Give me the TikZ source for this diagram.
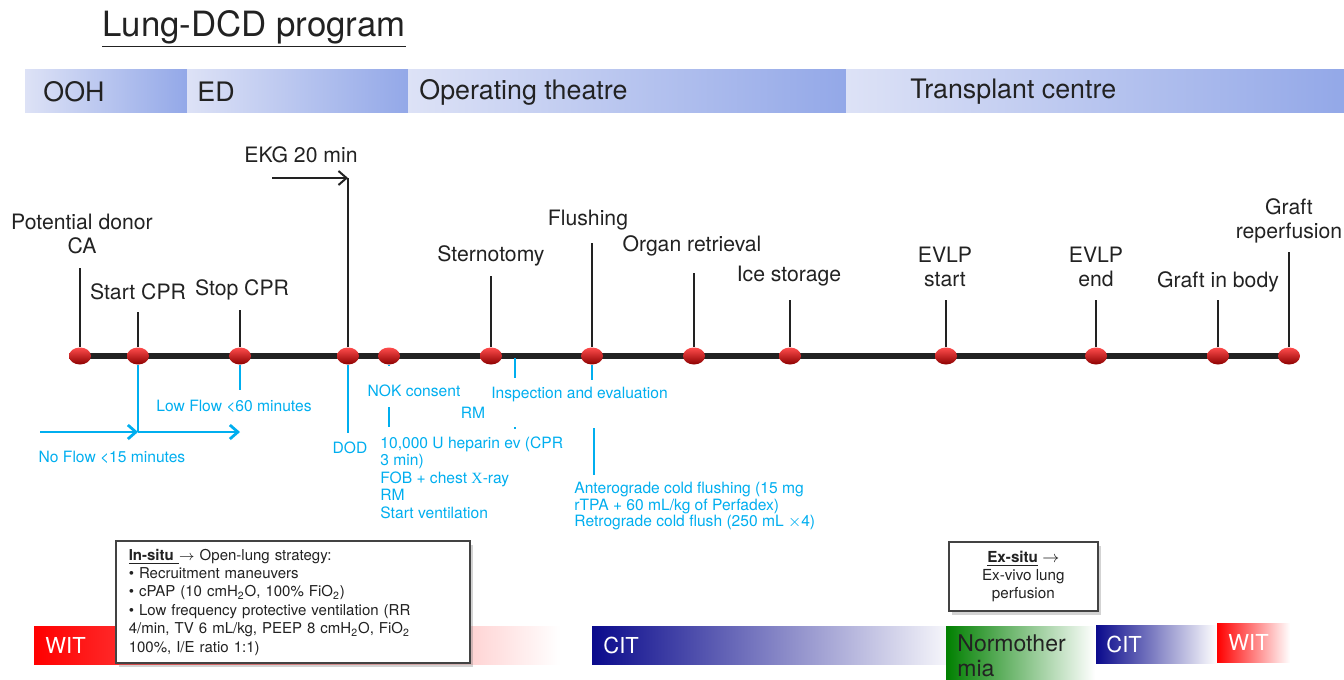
\documentclass[tikz,border=0pt]{standalone}
\usepackage{fontspec}
\setmainfont{TeX Gyre Heros}
\newfontfamily\serifx{Liberation Serif}
\usetikzlibrary{shapes.geometric,arrows.meta,shadows,backgrounds}
\definecolor{ink}{HTML}{222222}
\definecolor{flowblue}{HTML}{00AEEF}
\definecolor{bandlight}{HTML}{DDE2F6}
\definecolor{banddark}{HTML}{93A8E8}
\definecolor{citblue}{HTML}{0A0A8C}
\tikzset{
  dot/.style={ellipse,top color=red!70!white,middle color=red,bottom color=red!55!black,
    minimum width=11pt,minimum height=8.5pt,inner sep=0pt},
  tick/.style={line width=1pt,ink},
  flow/.style={line width=1.4pt,flowblue},
  lbl/.style={font=\fontsize{10.6}{12}\selectfont,text=ink,align=center,inner sep=0pt},
  bandtext/.style={font=\fontsize{13.4}{15}\selectfont,text=ink,anchor=west,inner sep=0pt},
  note/.style={font=\fontsize{7.8}{8.75}\selectfont,text=flowblue,align=left,inner sep=0pt},
  infobox/.style={draw=ink!85,line width=0.8pt,fill=white,
    drop shadow={shadow xshift=1.5pt,shadow yshift=-2pt,opacity=0.35},
    font=\fontsize{7.5}{9.2}\selectfont,text=ink},
  barlbl/.style={font=\fontsize{11}{12.5}\selectfont,text=white,anchor=west,inner sep=0pt},
}
\begin{document}
\begin{tikzpicture}[x=0.5pt,y=-0.5pt,>={Straight Barb[length=4pt,width=7pt]}]
\useasboundingbox (0,0) rectangle (1344,680);

% title and places
\node[font=\fontsize{17.4}{20}\selectfont,text=ink] (title) at (254,29) {\underline{Lung-DCD program}};
\shade[left color=bandlight,right color=banddark] (25,69) rectangle (187,112);
\shade[left color=bandlight,right color=banddark] (187,69) rectangle (408,112);
\shade[left color=bandlight,right color=banddark] (408,69) rectangle (846,112);
\shade[left color=bandlight,right color=banddark] (846,69) rectangle (1344,112);
\node[bandtext] (ooh) at (43,92) {OOH};
\node[bandtext] (ed) at (197,92) {ED};
\node[bandtext] (ot) at (419,92) {Operating theatre};
\node[bandtext] (tc) at (910,92) {Transplant centre};

% time line
\node[dot] (d0) at (80,356) {};
\node[dot] (d1) at (138,356) {};
\node[dot] (d2) at (240,356) {};
\node[dot] (d3) at (348,356) {};
\node[dot] (d4) at (389,356) {};
\node[dot] (d5) at (491,356) {};
\node[dot] (d6) at (592,356) {};
\node[dot] (d7) at (694,356) {};
\node[dot] (d8) at (790,356) {};
\node[dot] (d9) at (946,356) {};
\node[dot] (d10) at (1096,356) {};
\node[dot] (d11) at (1218,356) {};
\node[dot] (d12) at (1289,356) {};
\begin{scope}[on background layer]
\draw[line width=2.6pt,ink] (d0.center) -- (d12.center);
\end{scope}

% events
\coordinate (t0) at (80,268);
\coordinate (t1) at (138,312);
\coordinate (t2) at (240,310);
\coordinate (t5) at (491,276);
\coordinate (t6) at (592,243);
\coordinate (t7) at (694,273);
\coordinate (t8) at (790,300);
\coordinate (t9) at (946,300);
\coordinate (t10) at (1096,300);
\coordinate (t11) at (1218,300);
\coordinate (t12) at (1289,252);
\draw[tick] (t0) -- (d0);
\draw[tick] (t1) -- (d1);
\draw[tick] (t2) -- (d2);
\draw[tick] (t5) -- (d5);
\draw[tick] (t6) -- (d6);
\draw[tick] (t7) -- (d7);
\draw[tick] (t8) -- (d8);
\draw[tick] (t9) -- (d9);
\draw[tick] (t10) -- (d10);
\draw[tick] (t11) -- (d11);
\draw[tick] (t12) -- (d12);
\coordinate (ekg0) at (272,178);
\coordinate (ekg1) at (348,178);
\draw[tick,->] (ekg0) -- (ekg1);
\draw[tick] (ekg1) -- (d3);

\node[lbl] (pd) at (82,234) {Potential donor\\CA};
\node[lbl] (scpr) at (138,292) {Start CPR};
\node[lbl] (stcpr) at (242,290) {Stop CPR};
\node[lbl] (ekg) at (301,155) {EKG 20 min};
\node[lbl] (stern) at (491,256) {Sternotomy};
\node[lbl] (flush) at (588,220) {Flushing};
\node[lbl] (retr) at (692,246) {Organ retrieval};
\node[lbl] (ice) at (789,276) {Ice storage};
\node[lbl] (evs) at (945,267) {EVLP\\start};
\node[lbl] (eve) at (1096,267) {EVLP\\end};
\node[lbl] (gib) at (1218,282) {Graft in body};
\node[lbl] (grep) at (1289,221) {Graft\\reperfusion};

% flow times and steps
\coordinate (nf0) at (40,432);
\coordinate (nf1) at (138,432);
\coordinate (lf1) at (240,432);
\coordinate (lf0) at (240,390);
\draw[flow] (d1) -- (nf1);
\draw[flow,->] (nf0) -- (nf1);
\draw[flow,->] (nf1) -- (lf1);
\draw[flow] (d2) -- (lf0);
\node[note] (lowflow) at (234,406) {Low Flow <60 minutes};
\node[note] (noflow) at (112,457) {No Flow <15 minutes};

\coordinate (dod0) at (348,433);
\draw[flow] (d3) -- (dod0);
\node[note] (dod) at (350,448) {DOD};

\coordinate (nok0) at (389,366);
\coordinate (nok1) at (389,407);
\coordinate (nok2) at (389,427);
\draw[flow] (d4) -- (nok0);
\draw[flow] (nok1) -- (nok2);
\node[note] (nok) at (414,391) {NOK consent};
\node[note,anchor=north west] (hep) at (380,436)
  {10,000 U heparin ev (CPR\\3 min)\\FOB + chest {\serifx X}-ray\\RM\\Start ventilation};
\node[note] (rm) at (473,413) {RM};

\coordinate (ins0) at (515,358);
\coordinate (ins1) at (515,378);
\coordinate (ins2) at (515,427);
\coordinate (ins3) at (515,429);
\draw[flow] (ins0) -- (ins1);
\draw[flow] (ins2) -- (ins3);
\node[note,anchor=west] (insp) at (491,395) {Inspection and evaluation};

\coordinate (fl0) at (592,380);
\coordinate (fl1) at (594,428);
\coordinate (fl2) at (594,475);
\draw[flow] (d6) -- (fl0);
\draw[flow] (fl1) -- (fl2);
\node[note,anchor=north west,font=\fontsize{7.8}{8.25}\selectfont] (ante) at (574,482)
  {Anterograde cold flushing (15 mg\\rTPA + 60 mL/kg of Perfadex)\\Retrograde cold flush (250 mL $\times$4)};

% ischaemia bars
\shade[left color=red,middle color=red!25,right color=white] (34,626) rectangle (560,664);
\shade[left color=citblue,right color=citblue!4] (592,626) rectangle (946,664);
\shade[left color=green!50!black,right color=white] (946,626) rectangle (1095,680);
\shade[left color=citblue,right color=white] (1096,625) rectangle (1217,663);
\shade[left color=red,right color=white] (1217,623) rectangle (1290,662);
\node[barlbl] (wit1) at (45,645) {WIT};
\node[barlbl] (cit1) at (603,645) {CIT};
\node[barlbl,text=ink,align=left,anchor=north west,font=\fontsize{11.5}{12.5}\selectfont] (normo) at (957,634) {Normother\\mia};
\node[barlbl] (cit2) at (1106,644) {CIT};
\node[barlbl] (wit2) at (1228,642) {WIT};

% strategy boxes
\node[infobox,anchor=north west,text width=164pt,inner xsep=6.5pt,inner ysep=4pt,align=left] (insitu) at (115,540)
  {\underline{\textbf{In-situ}~}$\rightarrow$ Open-lung strategy:\\
   \textbullet{} Recruitment maneuvers\\
   \textbullet{} cPAP (10 cmH\textsubscript{2}O, 100\% FiO\textsubscript{2})\\
   \textbullet{} Low frequency protective ventilation (RR\\
   4/min, TV 6 mL/kg, PEEP 8 cmH\textsubscript{2}O, FiO\textsubscript{2}\\
   100\%, I/E ratio 1:1)};
\node[infobox,anchor=north west,align=center,minimum width=74.5pt,minimum height=34.5pt,inner sep=2pt,font=\fontsize{7.6}{9}\selectfont] (exsitu) at (948,541)
  {\underline{\textbf{Ex-situ}} $\rightarrow$\\Ex-vivo lung\\perfusion};
\end{tikzpicture}
\end{document}
